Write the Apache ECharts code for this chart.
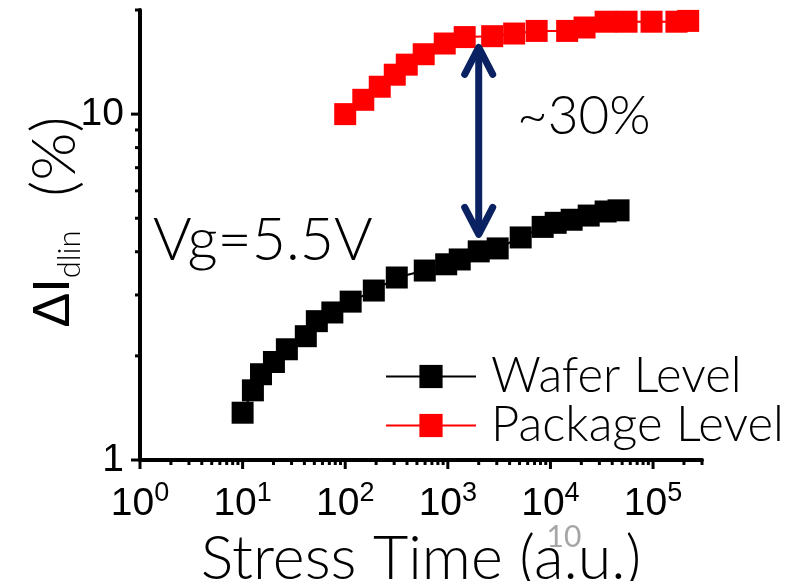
<!DOCTYPE html>
<html>
<head>
<meta charset="utf-8">
<script src="https://cdn.jsdelivr.net/npm/echarts@6/dist/echarts.min.js"></script>
<style>
  html, body { margin: 0; padding: 0; background: #ffffff; }
  #chart { width: 799px; height: 581px; }
</style>
</head>
<body>
<div id="chart"></div>
<script>
// Stress time (a.u.) and drain-current degradation (%) for each level
const waferTime = [10, 12.6, 15.1, 20.2, 27, 41.3, 52.9, 74.9, 113, 190, 318, 596, 964, 1306, 2000, 3060, 5130, 8400, 11250, 16100, 23600, 34500, 46100];
const waferDelta = [1.37, 1.59, 1.77, 1.92, 2.09, 2.28, 2.52, 2.67, 2.87, 3.09, 3.37, 3.53, 3.68, 3.80, 4.01, 4.09, 4.40, 4.72, 4.85, 4.95, 5.09, 5.23, 5.27];
const packageTime = [100, 150, 217, 304, 398, 582, 933, 1460, 2705, 4430, 7340, 14550, 21500, 34500, 55200, 96700, 169000, 220000];
const packageDelta = [10.0, 11.0, 12.0, 13.0, 13.9, 14.9, 16.0, 16.7, 16.8, 17.1, 17.4, 17.4, 17.8, 18.5, 18.5, 18.5, 18.5, 18.6];

// Gap arrow between the two curves
const arrowTime = 2000;
const arrowTop = 15.6;
const arrowBottom = 4.49;

// Axis ranges and decade tick labels
const xRange = [1, 300000];
const yRange = [1, 20];
const xDecades = [0, 1, 2, 3, 4, 5];
const yDecades = [0, 1];

const thinFont = 'Lato';
const tickFont = 'Liberation Sans';

function pairs(xs, ys) { return xs.map((x, i) => [x, ys[i]]); }

// Log-paper ticks (1..9 x 10^k) drawn through the axis scales
function tickItem(params, api) {
  const children = [];
  const style = { stroke: '#000', lineWidth: 3 };
  const origin = api.coord([xRange[0], yRange[0]]);
  for (let k = xDecades[0]; k <= 6; k++) {
    for (let m = 1; m <= 9; m++) {
      const v = m * Math.pow(10, k);
      if (v < xRange[0] || v > xRange[1]) continue;
      const p = api.coord([v, yRange[0]]);
      const len = m === 1 ? 9 : 5;
      children.push({ type: 'line', shape: { x1: p[0], y1: origin[1], x2: p[0], y2: origin[1] + len }, style: style });
    }
  }
  for (let k = yDecades[0]; k <= 2; k++) {
    for (let m = 1; m <= 9; m++) {
      const v = m * Math.pow(10, k);
      if (v < yRange[0] || v > yRange[1]) continue;
      const p = api.coord([xRange[0], v]);
      const len = m === 1 ? 9 : 5;
      children.push({ type: 'line', shape: { x1: origin[0] - len, y1: p[1], x2: origin[0], y2: p[1] }, style: style });
    }
  }
  return { type: 'group', children: children };
}

function arrowItem(params, api) {
  const top = api.coord([api.value(0), api.value(1)]);
  const bot = api.coord([api.value(0), api.value(2)]);
  const s = { stroke: '#0a2262', lineWidth: 7, lineCap: 'round', lineJoin: 'round', fill: null };
  const dx = 14, dy = 27;
  return {
    type: 'group',
    children: [
      { type: 'line', shape: { x1: top[0], y1: top[1] + 3, x2: bot[0], y2: bot[1] - 3 }, style: s },
      { type: 'polyline', shape: { points: [[top[0] - dx, top[1] + dy], top, [top[0] + dx, top[1] + dy]] }, style: s },
      { type: 'polyline', shape: { points: [[bot[0] - dx, bot[1] - dy], bot, [bot[0] + dx, bot[1] - dy]] }, style: s }
    ]
  };
}

const chart = echarts.init(document.getElementById('chart'), null, { renderer: 'canvas' });

chart.setOption({
  animation: false,
  backgroundColor: '#ffffff',
  grid: { left: 140, right: 97, top: 10, bottom: 121, containLabel: false, outerBoundsMode: 'none' },
  xAxis: {
    type: 'log', logBase: 10, min: xRange[0], max: xRange[1],
    axisLine: { show: true, lineStyle: { color: '#000', width: 4 } },
    axisTick: { show: false },
    splitLine: { show: false },
    minorTick: { show: false },
    axisLabel: {
      margin: 20,
      showMaxLabel: false,
      formatter: v => '{b|10}{s|' + Math.round(Math.log10(v)) + '}',
      rich: {
        b: { fontFamily: tickFont, fontSize: 39, verticalAlign: 'bottom', color: '#000' },
        s: { fontFamily: tickFont, fontSize: 27, verticalAlign: 'bottom', padding: [0, 0, 17, 0], color: '#000' }
      }
    },
    name: 'Stress Time (a.u.)',
    nameLocation: 'middle',
    nameGap: 67,
    nameTextStyle: { fontFamily: thinFont, fontWeight: 300, fontSize: 61, color: '#000' }
  },
  yAxis: {
    type: 'log', logBase: 10, min: yRange[0], max: yRange[1],
    axisLine: { show: true, lineStyle: { color: '#000', width: 4 } },
    axisTick: { show: false },
    splitLine: { show: false },
    minorTick: { show: false },
    axisLabel: {
      margin: 16,
      showMaxLabel: false,
      fontFamily: tickFont, fontSize: 39, color: '#000',
      formatter: v => String(Math.round(v))
    }
  },
  legend: {
    orient: 'vertical',
    left: 385, top: 352,
    padding: 0,
    itemGap: 0,
    itemWidth: 90,
    itemHeight: 29,
    data: ['Wafer Level', 'Package Level'],
    textStyle: { fontFamily: thinFont, fontWeight: 300, fontSize: 49, lineHeight: 49, color: '#000', padding: [0, 0, 0, 10] }
  },
  series: [
    {
      name: 'Wafer Level', type: 'line', data: pairs(waferTime, waferDelta),
      symbol: 'rect', symbolSize: 22, color: '#000000',
      lineStyle: { width: 2, color: '#000000' }, itemStyle: { color: '#000000' }, z: 3
    },
    {
      name: 'Package Level', type: 'line', data: pairs(packageTime, packageDelta),
      symbol: 'rect', symbolSize: 22, color: '#ff0000',
      lineStyle: { width: 2, color: '#ff0000' }, itemStyle: { color: '#ff0000' }, z: 3
    },
    {
      type: 'custom', renderItem: tickItem, data: [[xRange[0], yRange[0]]], clip: false, silent: true, z: 4
    },
    {
      type: 'custom', renderItem: arrowItem, data: [[arrowTime, arrowTop, arrowBottom]],
      encode: { x: 0, y: [1, 2] }, clip: false, silent: true, z: 5
    }
  ],
  graphic: [
    {
      type: 'text', x: 55, y: 222, rotation: Math.PI / 2,
      style: {
        text: '{a|ΔI}{b|dlin}{c|  (%)}',
        align: 'center', verticalAlign: 'middle',
        rich: {
          a: { fontFamily: tickFont, fontSize: 52, lineHeight: 60, fill: '#000' },
          b: { fontFamily: thinFont, fontWeight: 300, fontSize: 31, lineHeight: 28, verticalAlign: 'bottom', fill: '#000' },
          c: { fontFamily: thinFont, fontWeight: 300, fontSize: 62, lineHeight: 60, fill: '#000' }
        }
      }
    },
    {
      type: 'text', x: 517, y: 117,
      style: { text: '~30%', fontFamily: thinFont, fontWeight: 300, fontSize: 53, fill: '#000', align: 'left', verticalAlign: 'middle' }
    },
    {
      type: 'text', x: 153, y: 241,
      style: { text: 'Vg=5.5V', fontFamily: thinFont, fontWeight: 300, fontSize: 59, fill: '#000', align: 'left', verticalAlign: 'middle' }
    },
    {
      type: 'text', x: 564, y: 537, z: 10,
      style: { text: '10', fontFamily: thinFont, fontSize: 30, fill: '#a6a6a6', align: 'center', verticalAlign: 'middle' }
    }
  ]
});
</script>
</body>
</html>
